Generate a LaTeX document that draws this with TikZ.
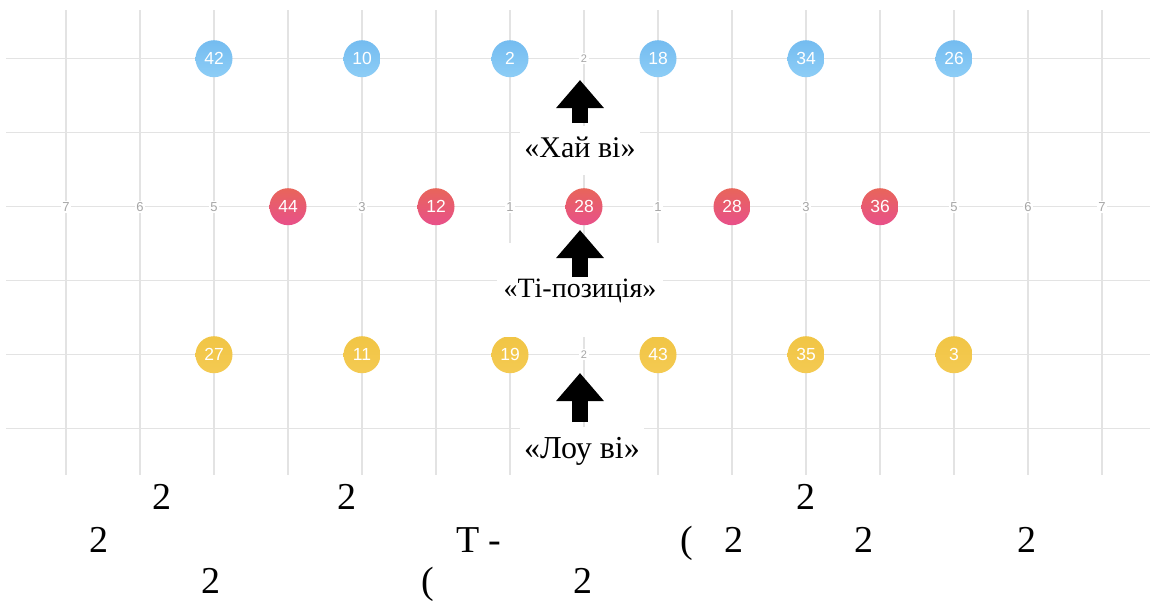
\documentclass[tikz,border=0pt]{standalone}
\usepackage{fontspec}
\setmainfont{Liberation Serif}
\newfontfamily\chipfont{Liberation Sans}
\usetikzlibrary{arrows.meta}

\definecolor{gridgray}{HTML}{E3E3E3}
\definecolor{tickgray}{HTML}{A6A6A6}
\definecolor{hiTop}{HTML}{74BCF0}
\definecolor{hiBot}{HTML}{8DCDF6}
\definecolor{midTop}{HTML}{E8655A}
\definecolor{midBot}{HTML}{E8508A}
\definecolor{loTop}{HTML}{F1C545}
\definecolor{loBot}{HTML}{F4CA52}

\begin{document}
\begin{tikzpicture}[
    x=1pt, y=-1pt,
    gridline/.style={draw=gridgray, line width=1.3pt},
    chip/.style={
        circle,
        minimum size=37pt,
        inner sep=0pt,
        text=white,
        font=\chipfont\fontsize{17.5}{17.5}\selectfont
    },
    hichip/.style={chip, top color=hiTop, bottom color=hiBot},
    midchip/.style={chip, top color=midTop, bottom color=midBot},
    lochip/.style={chip, top color=loTop, bottom color=loBot},
    tick/.style={
        fill=white,
        inner sep=1.5pt,
        text=tickgray,
        font=\chipfont\fontsize{13}{13}\selectfont
    },
    smalltick/.style={tick, font=\chipfont\fontsize{11}{11}\selectfont},
    caption/.style={
        fill=white,
        anchor=base,
        inner xsep=4pt,
        inner ysep=12pt,
        text height=19pt,
        text depth=6pt,
        font=\fontsize{30}{32}\selectfont
    },
    bigarrow/.style={line width=16pt, -{Triangle[length=28pt, width=46pt]}},
    frag/.style={inner sep=0pt, anchor=base, font=\fontsize{38}{42}\selectfont}
]

\useasboundingbox[fill=white] (0,0) rectangle (1150,600);

% grid
\foreach \c in {0,...,14}
    \draw[gridline] (66+74*\c,10) -- (66+74*\c,475);
\foreach \r in {0,...,5}
    \draw[gridline] (6,58.7+74*\r) -- (1150,58.7+74*\r);

% chips
\foreach \c/\n in {2/42, 4/10, 6/2, 8/18, 10/34, 12/26}
    \node[hichip] (hi-\c) at (66+74*\c,58.7) {\n};
\foreach \c/\n in {3/44, 5/12, 7/28, 9/28, 11/36}
    \node[midchip] (mid-\c) at (66+74*\c,206.7) {\n};
\foreach \c/\n in {2/27, 4/11, 6/19, 8/43, 10/35, 12/3}
    \node[lochip] (lo-\c) at (66+74*\c,354.7) {\n};

% distances
\foreach \c/\n in {0/7, 1/6, 2/5, 4/3, 6/1, 8/1, 10/3, 12/5, 13/6, 14/7}
    \node[tick] (dist-\c) at (66+74*\c,206.7) {\n};
\node[smalltick] (hi-gap) at (584,58.7) {2};
\node[smalltick] (lo-gap) at (584,354.7) {2};

% captions and arrows
\node[caption] (hai) at (580,157) {«Хай ві»};
\node[caption, font=\fontsize{28}{30}\selectfont, inner xsep=7pt,
    text height=42pt, text depth=28pt] (tpos) at (580,297) {«Ті-позиція»};
\node[caption, font=\fontsize{32}{34}\selectfont] (lou) at (582,458) {«Лоу ві»};
\foreach \name/\tip/\lift in {hai/80/34, tpos/230/20, lou/373/36} {
    \coordinate (\name-tip) at (580,\tip);
    \draw[bigarrow] ([yshift=\lift pt]\name.base -| \name-tip) -- (\name-tip);
}

% text below
\foreach \x/\y/\t [count=\i] in {162/509/2, 347/509/2, 806/509/2,
        99/552/2, 687/552/(, 734/552/2, 864/552/2, 1027/552/2,
        211/593/2, 428/593/(, 583/593/2}
    \node[frag] (frag-\i) at (\x,\y) {\t};
\node[frag, anchor=base west] (frag-t) at (456,552) {T -};

\end{tikzpicture}
\end{document}
